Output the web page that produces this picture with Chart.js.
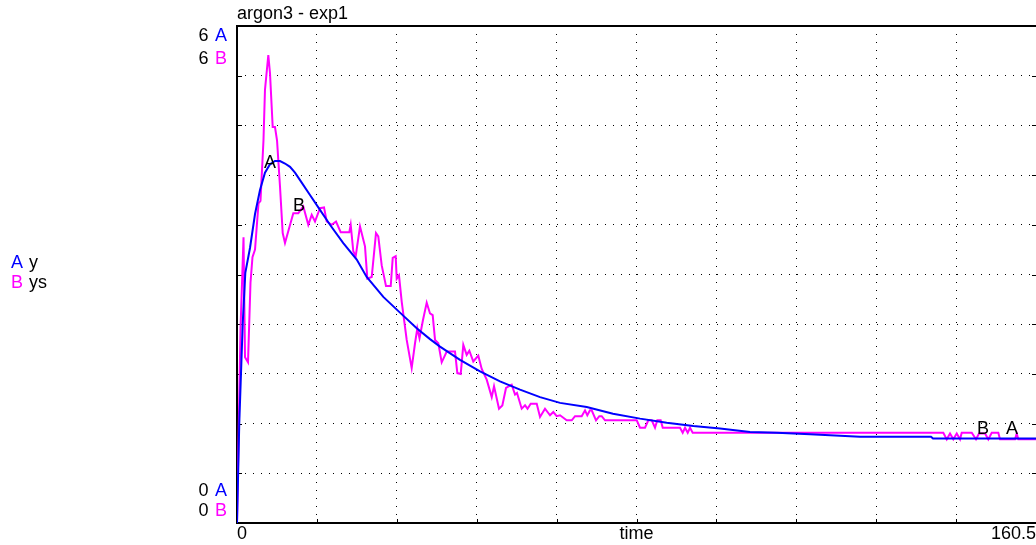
<!DOCTYPE html>
<html><head><meta charset="utf-8">
<script src="https://cdn.jsdelivr.net/npm/chart.js@4.4.0/dist/chart.umd.min.js"></script>
<style>html,body{margin:0;padding:0;background:#fff;overflow:hidden}#wrap{position:relative;width:1036px;height:545px}</style>
</head><body><div id="wrap"><canvas id="c" width="1036" height="545"></canvas></div>
<script>
const chartTitle = "argon3 - exp1";
const xAxisTitle = "time";
const xMin = 0, xMax = 160.5;
const yMin = 0, yMax = 6;
const xTickLabels = ["0", "160.5"];
const seriesKeys = ["A", "B"];
const seriesNames = ["y", "ys"];

const timeA = [0, 0.46, 1.15, 1.67, 2.61, 3.62, 4.62, 5.62, 6.63, 7.63, 8.64, 9.64, 10.65, 11.65, 12.66, 14.66, 16.67, 18.68, 21.35, 24.05, 26.05, 29.39, 32.74, 36.10, 38.77, 40.78, 44.80, 48.82, 52.83, 56.85, 60.87, 64.89, 70.25, 75.53, 80.96, 86.32, 91.66, 97.03, 103.05, 108.42, 115.11, 125.15, 139.41, 139.81, 160.5];
const valuesA = [0, 1.21, 2.41, 3.02, 3.32, 3.73, 4.02, 4.23, 4.33, 4.37, 4.37, 4.34, 4.30, 4.23, 4.14, 3.96, 3.78, 3.60, 3.38, 3.18, 2.97, 2.73, 2.54, 2.35, 2.22, 2.13, 1.97, 1.83, 1.71, 1.61, 1.52, 1.45, 1.40, 1.32, 1.26, 1.21, 1.17, 1.14, 1.10, 1.09, 1.07, 1.04, 1.04, 1.02, 1.02];

const timeB = [0, 0.70, 1.31, 1.61, 2.21, 2.71, 3.11, 3.62, 4.32, 4.72, 5.32, 5.62, 6.29, 6.63, 7.17, 7.63, 8.04, 8.64, 9.18, 9.64, 11.31, 12.31, 13.32, 14.32, 15.01, 15.67, 16.67, 17.48, 18.02, 19.02, 19.89, 20.83, 22.56, 22.84, 23.36, 23.84, 24.71, 25.71, 26.18, 27.06, 27.92, 28.38, 29.07, 29.93, 30.88, 31.28, 31.88, 32.08, 32.54, 33.09, 34.09, 35.09, 35.76, 36.22, 36.66, 37.36, 38.11, 38.77, 39.31, 39.78, 40.44, 41.12, 42.13, 43.79, 44.26, 44.94, 45.46, 46.14, 46.67, 47.47, 48.47, 49.16, 50.16, 51.17, 51.63, 52.63, 53.30, 54.04, 55.18, 55.85, 56.25, 57.19, 57.86, 58.36, 59.00, 60.21, 60.87, 61.87, 62.88, 63.54, 64.22, 64.89, 66.23, 67.24, 67.90, 69.24, 69.91, 70.37, 70.91, 71.25, 72.12, 72.78, 73.26, 73.93, 80.29, 80.96, 81.96, 82.62, 83.31, 83.97, 84.43, 85.11, 85.52, 88.99, 89.53, 90.00, 90.54, 91.00, 91.54, 141.88, 142.57, 143.23, 143.89, 144.58, 145.24, 145.58, 147.59, 148.45, 149.06, 150.26, 150.92, 151.61, 152.93, 153.27, 156.29, 156.63, 156.95, 160.5];
const valuesB = [0, 2.33, 3.45, 2.00, 1.94, 2.90, 3.21, 3.30, 3.86, 3.89, 4.62, 5.23, 5.65, 5.43, 4.78, 4.78, 4.62, 4.06, 3.50, 3.38, 3.74, 3.74, 3.82, 3.60, 3.72, 3.64, 3.80, 3.81, 3.64, 3.60, 3.64, 3.51, 3.51, 3.60, 3.28, 3.22, 3.58, 3.34, 2.95, 2.97, 3.50, 3.46, 3.11, 2.86, 2.86, 3.20, 3.22, 2.95, 2.99, 2.67, 2.21, 1.87, 2.17, 2.35, 2.23, 2.45, 2.66, 2.53, 2.51, 2.21, 2.17, 1.94, 2.07, 2.07, 1.81, 1.80, 2.15, 2.03, 2.08, 1.95, 2.02, 1.86, 1.73, 1.52, 1.65, 1.38, 1.42, 1.63, 1.67, 1.55, 1.57, 1.38, 1.42, 1.38, 1.44, 1.44, 1.28, 1.38, 1.30, 1.34, 1.29, 1.30, 1.24, 1.24, 1.29, 1.29, 1.36, 1.30, 1.36, 1.36, 1.24, 1.29, 1.29, 1.24, 1.24, 1.15, 1.15, 1.24, 1.24, 1.15, 1.24, 1.24, 1.15, 1.15, 1.09, 1.15, 1.09, 1.15, 1.09, 1.09, 1.01, 1.08, 1.01, 1.08, 1.01, 1.09, 1.09, 1.01, 1.08, 1.08, 1.01, 1.09, 1.09, 1.01, 1.01, 1.08, 1.01, 1.01];

// curve identification letters placed along each series (time, value)
const markerKeys = ["A", "B", "B", "A"];
const markerTimes = [6.63, 12.45, 149.86, 155.68];
const markerValues = [4.35, 3.83, 1.13, 1.14];

const COLORS = {A: "#0000ff", B: "#ff00ff"};
const FONT = "18px 'Liberation Sans', Arial, sans-serif";

function pts(t, v) { return t.map((x, i) => ({x: x, y: v[i]})); }
function gridValues(min, max, n) { const a = []; for (let i = 0; i <= n; i++) a.push(min + i * (max - min) / n); return a; }

const deco = {
  id: 'deco',
  beforeDatasetsDraw(chart) {
    const {ctx, chartArea: a} = chart;
    const xs = chart.scales.x, ys = chart.scales.y;
    ctx.save();
    ctx.strokeStyle = '#000';
    ctx.lineWidth = 2;
    ctx.beginPath();
    ctx.moveTo(a.left, a.top); ctx.lineTo(a.right + 2, a.top);
    ctx.moveTo(a.left, a.top - 1); ctx.lineTo(a.left, a.bottom + 1);
    ctx.moveTo(a.left - 1, a.bottom); ctx.lineTo(a.right + 2, a.bottom);
    ctx.stroke();
    ctx.lineWidth = 1;
    ctx.beginPath();
    ys.ticks.forEach(t => {
      const y = Math.round(ys.getPixelForValue(t.value)) + 0.5;
      ctx.moveTo(a.left, y); ctx.lineTo(a.left + 5, y);
      ctx.moveTo(a.right - 4, y); ctx.lineTo(a.right, y);
    });
    xs.ticks.forEach(t => {
      const x = Math.round(xs.getPixelForValue(t.value)) + 0.5;
      ctx.moveTo(x, a.bottom); ctx.lineTo(x, a.bottom - 4);
    });
    ctx.stroke();
    ctx.restore();
  },
  afterDatasetsDraw(chart) {
    const {ctx, chartArea: a} = chart;
    const xs = chart.scales.x, ys = chart.scales.y;
    ctx.save();
    ctx.font = FONT;
    ctx.textBaseline = 'middle';
    // title
    ctx.fillStyle = '#000';
    ctx.textAlign = 'left';
    ctx.fillText(chartTitle, a.left, 14);
    // y range labels
    const yl = [[String(yMax), 'A', 36], [String(yMax), 'B', 59], [String(yMin), 'A', 491], [String(yMin), 'B', 511.5]];
    yl.forEach(([num, key, y]) => {
      ctx.textAlign = 'right'; ctx.fillStyle = '#000';
      ctx.fillText(num, a.left - 28.5, y);
      ctx.textAlign = 'left'; ctx.fillStyle = COLORS[key];
      ctx.fillText(key, a.left - 22, y);
    });
    // x labels
    ctx.fillStyle = '#000';
    ctx.textAlign = 'left';
    ctx.fillText(xTickLabels[0], a.left, 534);
    ctx.textAlign = 'center';
    ctx.fillText(xAxisTitle, (a.left + a.right) / 2, 534);
    ctx.textAlign = 'right';
    ctx.fillText(xTickLabels[1], a.right, 534);
    // legend
    seriesKeys.forEach((k, i) => {
      const y = 263 + i * 20.5;
      ctx.textAlign = 'left';
      ctx.fillStyle = COLORS[k];
      ctx.fillText(k, 11, y);
      ctx.fillStyle = '#000';
      ctx.fillText(seriesNames[i], 29, y);
    });
    // curve markers
    ctx.fillStyle = '#000';
    ctx.textAlign = 'center';
    markerKeys.forEach((k, i) => {
      ctx.fillText(k, xs.getPixelForValue(markerTimes[i]), ys.getPixelForValue(markerValues[i]));
    });
    ctx.restore();
  }
};

const gridColor = c => (c.index === 0 || c.index === 10) ? 'rgba(0,0,0,0)' : '#000';

new Chart(document.getElementById('c'), {
  type: 'line',
  data: {
    datasets: [
      {label: seriesNames[0], data: pts(timeA, valuesA), borderColor: COLORS.A, borderWidth: 2, pointRadius: 0, tension: 0, fill: false},
      {label: seriesNames[1], data: pts(timeB, valuesB), borderColor: COLORS.B, borderWidth: 2, pointRadius: 0, tension: 0, fill: false}
    ]
  },
  options: {
    responsive: false,
    devicePixelRatio: 1,
    animation: false,
    layout: {padding: {top: 26, left: 0, right: 0, bottom: 0}},
    plugins: {legend: {display: false}, title: {display: false}, tooltip: {enabled: false}},
    scales: {
      x: {
        type: 'linear', min: xMin, max: xMax,
        afterBuildTicks: s => { s.ticks = gridValues(xMin, xMax, 10).map(v => ({value: v})); },
        afterFit: s => { s.height = 22; },
        ticks: {display: false},
        grid: {color: gridColor, lineWidth: 1, drawTicks: false},
        border: {display: false, dash: [1, 7]}
      },
      y: {
        type: 'linear', min: yMin, max: yMax,
        afterBuildTicks: s => { s.ticks = gridValues(yMin, yMax, 10).map(v => ({value: v})); },
        afterFit: s => { s.width = 237; },
        ticks: {display: false},
        grid: {color: gridColor, lineWidth: 1, drawTicks: false},
        border: {display: false, dash: [1, 7]}
      }
    }
  },
  plugins: [deco]
});
</script>
</body></html>
